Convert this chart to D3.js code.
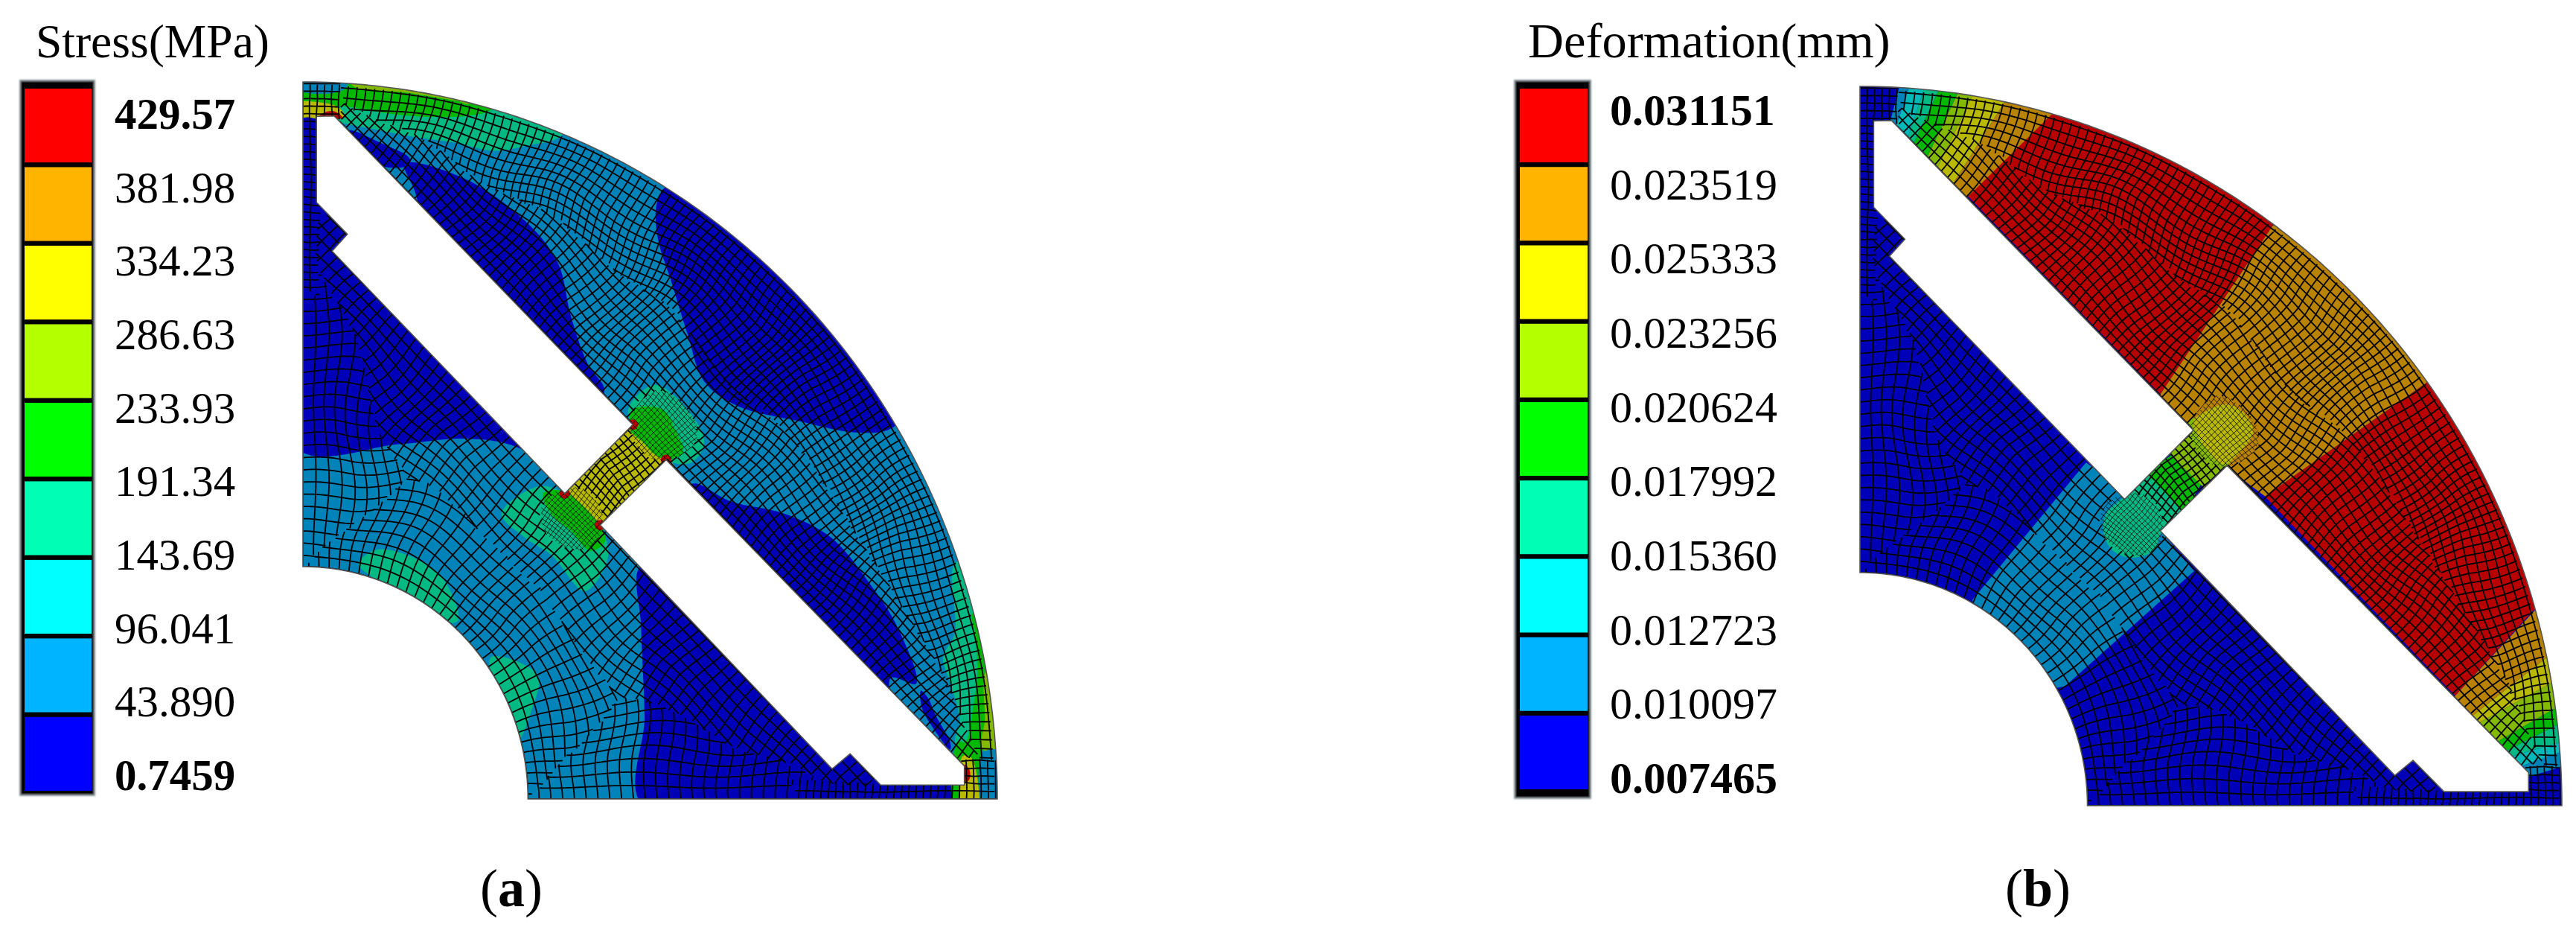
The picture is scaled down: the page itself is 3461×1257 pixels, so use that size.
<!DOCTYPE html>
<meta charset="utf-8">

<style>
body{
	background-color: #fff;
	margin: 0px;
}
text{
	font-family: "Liberation Serif", serif;
	fill: #000;
}
</style>

<body></body>

<script src="https://cdn.jsdelivr.net/npm/d3@7"></script>

<script>

// legend
var bandNames  = ['red', 'orange', 'yellow', 'lime', 'green', 'mint', 'cyan', 'sky', 'blue']
var bandColors = ['#ff0000', '#ffb400', '#ffff00', '#b4ff00', '#00ff00', '#00ffb4', '#00ffff', '#00b4ff', '#0000ff']
var stressLabels = ['429.57', '381.98', '334.23', '286.63', '233.93', '191.34', '143.69', '96.041', '43.890', '0.7459']
var deformLabels = ['0.031151', '0.023519', '0.025333', '0.023256', '0.020624', '0.017992', '0.015360', '0.012723', '0.010097', '0.007465']

// part outline, model units with outer radius 100
var outerRadius = 100
var innerRadius = 32.4
var slotUpper = [[1.95, 95.2], [4.5, 95.25], [47.5, 52.2], [37.7, 42.6], [4.2, 76.4], [6.4, 78.75], [1.95, 83.2]]
var slotLower = [[52.3, 47.3], [42.8, 38.2], [76.2, 4.2], [78.8, 6.3], [83.2, 1.95], [95.25, 1.95], [95.25, 4.6]]

// stress contours
var stressBase = 'sky'
var stressTopMint = [[-1, 96], [6.5, 94.1], [11.4, 93.2], [15.6, 92.4], [22, 91.5], [27.4, 90.4], [32.8, 91.2], [36.4, 92], [37.5, 93], [37, 101], [-1, 102]]
var stressTopGreen = [[-1, 97.9], [7.5, 96.4], [15, 95.3], [23.9, 95.3], [27.4, 96.4], [28, 102], [-1, 102]]
var stressTopLime = [[7, 99.6], [15, 98.5], [22, 97.4], [24, 97], [25, 102], [7, 102]]
var stressTopYellow = [[-1, 97], [3, 97.1], [5.2, 96.4], [6, 95.2], [4, 94.8], [-1, 95.4]]
var stressTopRed = [[2.2, 95], [3, 95.7], [4.5, 95.9], [5.7, 95]]
var stressTopCap = [[-1, 102], [6.5, 102], [6, 99], [-1, 99]]
var stressLeftBlue = [[-1, 94.5], [2.5, 94.5], [4, 90], [12, 75], [45, 40], [31, 49], [23.3, 50.25], [14, 49.5], [-1, 49]]
var stressSliver = [[6.75, 93.2], [11.4, 91.4], [15.3, 89.4], [15.3, 88.4], [11, 88.4]]
var stressUpperLens = [[14.7, 88.6], [23.3, 86.5], [31.9, 80.7], [36.7, 74.8], [38.6, 67.3], [41, 60.7], [43.4, 56.9], [40, 54], [18.5, 78], [16.1, 84.8]]
var stressOuterLobe = [[52.1, 85.25], [50.9, 82.75], [51.1, 78.2], [53, 72.3], [55.4, 64.8], [57.8, 58.2], [62.6, 54.8], [71.2, 52.75], [79.9, 51.1], [85.1, 51.9], [92, 62], [84, 82], [65, 92]]
var stressLowerLens = [[56.4, 44], [61.6, 41.5], [69.3, 39.8], [76, 36.5], [81.8, 29.8], [85.6, 24], [88.3, 16.1], [84.7, 16.9], [84, 14], [55, 43]]
var stressRightSliver = [[89, 15.1], [90, 14.1], [91.1, 11.7], [93.2, 7.9], [93.2, 6.9], [90.4, 10.4], [89.1, 12.8]]
var stressBottomBlue = [[49, -1], [49.2, 11.5], [48.7, 24], [48.7, 32.5], [60, 30], [95, 4], [94.6, -1]]
var stressRightMint = [[94, 33], [93.9, 23.2], [92.2, 19.7], [93.2, 16.2], [94.6, 11], [93.9, 8], [95, 6], [102, 10], [100, 33]]
var stressRightGreen = [[96.5, 26], [96.8, 23], [97.1, 19.7], [97.1, 16.9], [96.5, 12.8], [95.4, 7.9], [94.3, 8], [94, -1], [98, -1], [98, 7], [103, 12], [101, 26]]
var stressRightLime = [[98.5, 18], [98.2, 11], [97.8, 7], [102, 7], [102, 18]]
var stressRightEdge = [[98, 6.5], [101, 6.5], [101, -1], [98, -1]]
var stressCornerYellow = [[95, 6], [96.2, 5.8], [96.9, 4], [97.1, -1], [95, -1]]
var stressCornerRed = [[95.3, 4.8], [96, 4], [96, 2.8], [95.3, 2.2]]
var stressBridge = [[37, 44], [46.5, 53.2], [53.5, 46.5], [44, 37]]
var stressMintUpper = [[46.8, 54], [50.6, 57.75], [54.9, 54.8], [57.8, 49.8], [55.9, 46.9], [52.3, 47.3]]
var stressGreenUpper = [[47.5, 54.3], [51.8, 54.3], [53.6, 51.5], [54.7, 48.4], [52.8, 47.4], [51, 47.8], [48.9, 49.8], [47.1, 51.5]]
var stressMintLower = [[28.6, 39.8], [33.9, 43.6], [37.7, 42.6], [42.9, 37.75], [43.9, 33.6], [40.6, 29], [35.8, 34], [31.9, 36.5]]
var stressGreenLower = [[34.6, 42.6], [37.5, 42.9], [42.9, 38], [43.5, 35.9], [41.4, 34.6], [38.6, 37.4], [35.7, 39.8]]
var stressHubMintA = [[8, 32.75], [10.8, 34.8], [19.5, 31.5], [22.3, 24.8], [17.5, 25.7], [9.9, 31]]
var stressHubMintB = [[27.1, 19.8], [33.8, 17.3], [32.9, 12.3], [31, 8.2], [30, 11.5], [27.6, 15.7]]
var stressHotSpots = [[47.5, 52.2], [37.7, 42.6], [42.8, 38.2], [52.3, 47.3]]
var stressRegions = [
	['mint', stressTopMint], ['green', stressTopGreen], ['lime', stressTopLime],
	['yellow', stressTopYellow], ['red', stressTopRed], ['sky', stressTopCap],
	['blue', stressLeftBlue], ['blue', stressSliver], ['blue', stressUpperLens], ['blue', stressOuterLobe],
	['blue', stressLowerLens], ['blue', stressRightSliver], ['blue', stressBottomBlue],
	['mint', stressRightMint], ['green', stressRightGreen], ['lime', stressRightLime], ['sky', stressRightEdge],
	['yellow', stressCornerYellow], ['red', stressCornerRed],
	['mint', stressMintUpper], ['mint', stressMintLower], ['mint', stressHubMintA], ['mint', stressHubMintB],
	['yellow', stressBridge, 'hard'], ['green', stressGreenUpper], ['green', stressGreenLower]
]

// deformation contours
var deformBase = 'blue'
var deformRedUpper = [[26.9, 96], [15.2, 84.9], [42.8, 57.2], [58.7, 80.5], [62, 92], [30, 105]]
var deformRedLower = [[80.7, 58.8], [57.7, 43], [84.8, 15.3], [96.1, 27.3], [105, 35], [92, 70]]
var deformOrange = [[58.7, 80.5], [42.8, 57.2], [45, 53], [55, 45], [57.7, 43], [80.7, 58.8], [92, 66], [68, 90]]
var deformSky = [[16, 28.6], [32.2, 47.7], [37.7, 44], [43, 38], [47.6, 32.6], [29.2, 16.6], [20, 15]]
var deformMint = [[40.8, 46.2], [46.2, 40.7], [43, 38.1], [41.8, 35.4], [38.3, 34.5], [35.8, 35.7], [34.7, 38.1], [35.1, 40.6], [37.7, 43]]
var deformGreen = [[40.8, 46.2], [44.3, 48.7], [48.6, 44.7], [46.2, 40.7]]
var deformLime = [[43.5, 49.5], [47.5, 54], [53, 48], [49.2, 44]]
var deformBlob = [[47.5, 53.3], [49.6, 55], [52.4, 55.8], [54.9, 54.4], [56, 52], [54.5, 49.6], [51.7, 47.5]]
var deformRegions = [
	['red', deformRedUpper, 'hard'], ['red', deformRedLower, 'hard'], ['orange', deformOrange, 'hard'], ['sky', deformSky, 'hard'],
	['mint', deformMint], ['green', deformGreen, 'hard'], ['lime', deformLime, 'hard'], ['yellow', deformBlob]
]
var deformTopFronts = [
	[[4.35, 95.3], [5.6, 99.9]], [[5.2, 94.6], [7, 99.8]], [[7, 93.4], [9.1, 99.6]], [[7.9, 92.6], [11.2, 99.4]],
	[[10, 91], [13.9, 99]], [[11.2, 89], [16, 98.7]], [[13.6, 87], [20.6, 97.8]], [[15.5, 84.8], [27.4, 96.2]]
]
var deformEndFronts = [
	[[95.5, 4.1], [100, 5.4]], [[94.8, 5.7], [99.8, 7.45]], [[93.7, 7.1], [99.8, 8.8]], [[92.4, 7.8], [99.5, 11.3]],
	[[91.3, 9.2], [99.3, 13.7]], [[88.9, 11.9], [98.4, 17]], [[87.4, 12.6], [98.2, 20.9]], [[84.9, 15.4], [96.3, 27.3]]
]
var frontBands = ['sky', 'cyan', 'mint', 'green', 'lime', 'yellow', 'orange']

var W = 3461, H = 1257

var svg = d3.select('body').append('svg')
	.attr('width', W).attr('height', H)

var defs = svg.append('defs')
defs.append('filter').attr('id', 'soft').append('feGaussianBlur').attr('stdDeviation', 0.55)
defs.append('filter').attr('id', 'softBar').append('feGaussianBlur').attr('stdDeviation', 1.2)

var shade = {}
bandNames.forEach(function(d, i){ shade[d] = d3.rgb(bandColors[i]).darker(0.9).formatHex() })

// distance to the nearest free edge of the part
function depth(u, v){
	var s = u + v, r = Math.hypot(u, v)
	var slot = s > 90 ? Math.abs(s - 99.8) : Math.abs(80.5 - s)
	return Math.min(outerRadius - r, r - innerRadius, u, v, slot / Math.SQRT2)
}

// paved meshes are never straight away from the edges, bend the interior a bit
function bend(p){
	var k = Math.min(1, Math.max(0, depth(p[0], p[1])) / 7) * 0.75
	return [p[0] + k * Math.sin(p[1] * 0.31 + p[0] * 0.09), p[1] + k * Math.cos(p[0] * 0.27 - p[1] * 0.12)]
}

// which mesh family owns a point of the part
function zone(u, v){
	var s = u + v, e = Math.abs(u - v), r = Math.hypot(u, v)
	if (Math.hypot(u - 38.6, v - 38.8) < 4.6 || Math.hypot(u - 51.7, v - 51.9) < 4.6) return 'blob'
	if (s > 80.5 && s < 99.8 && e < 5.6) return 'bridge'
	if (s > 90){
		if (u < 2.1 || v < 2.1 || (v > 94.6 && u < 5.6) || (u > 94.6 && v < 5.6)) return 'strip'
		return (outerRadius - r) < (s - 99.8) / Math.SQRT2 ? 'rim' : 'outerSlot'
	}
	if (s > 72 && (u < 2.1 || v < 2.1)) return 'strip'
	var hub = r - innerRadius, slot = Math.abs(80.5 - s) / Math.SQRT2, side = Math.min(u, v)
	if (side < hub && side < slot) return 'grid'
	return hub < slot ? 'hub' : 'innerSlot'
}

function meshPaths(line){
	var runs = {fine: [], coarse: []}
	function trace(pts, fam){
		var run = null, out = fam == 'blob' ? runs.fine : runs.coarse
		for (var i = 1; i < pts.length; i++){
			if (zone((pts[i][0] + pts[i - 1][0]) / 2, (pts[i][1] + pts[i - 1][1]) / 2) == fam){
				if (!run){ run = [bend(pts[i - 1])]; out.push(run) }
				run.push(bend(pts[i]))
			} else run = null
		}
	}
	function polar(fam, r0, r1, dr, dth){
		d3.range(r0, r1, dr).forEach(function(r){
			trace(d3.range(0, Math.PI / 2 + 0.001, 0.6 / r).map(function(t){ return [r * Math.cos(t), r * Math.sin(t)] }), fam)
		})
		d3.range(dth / 2, Math.PI / 2, dth).forEach(function(t){
			trace(d3.range(r0, r1 + 0.1, 0.6).map(function(r){ return [r * Math.cos(t), r * Math.sin(t)] }), fam)
		})
	}
	function diag(fam, s0, s1, e0, e1, sp){
		var ds = sp * Math.SQRT2, st = 0.6
		d3.range(s0, s1, ds).forEach(function(s){
			trace(d3.range(e0, e1, st).map(function(e){ return [(s + e) / 2, (s - e) / 2] }), fam)
		})
		d3.range(e0, e1, ds).forEach(function(e){
			trace(d3.range(s0, s1, st).map(function(s){ return [(s + e) / 2, (s - e) / 2] }), fam)
		})
	}
	function cart(fam, sp){
		d3.range(0, 100, sp).forEach(function(k){
			var sweep = d3.range(0, 100.1, 0.6)
			trace(sweep.map(function(w){ return [k, w] }), fam)
			trace(sweep.map(function(w){ return [w, k] }), fam)
		})
	}
	polar('rim', 60, 100, 1.27, 1.27 / 100)
	diag('outerSlot', 99.8, 142, -100, 100, 1.27)
	polar('hub', innerRadius, 62, 1.6, 1.45 / innerRadius)
	// runs past the slot line so the two notches get cells too
	diag('innerSlot', 80.5 - 1.6 * Math.SQRT2 * 30, 90, -100, 100, 1.6)
	cart('grid', 1.7)
	cart('strip', 1.05)
	diag('bridge', 80.5, 99.8, -6, 6, 0.95)
	diag('blob', 70, 112, -10, 10, 0.6)
	return {fine: runs.fine.map(line).join(''), coarse: runs.coarse.map(line).join('')}
}

function drawPart(id, xRange, yRange, base, regions, fans, hotSpots){
	var x = d3.scaleLinear().domain([0, outerRadius]).range(xRange)
	var y = d3.scaleLinear().domain([0, outerRadius]).range(yRange)
	var line = d3.line().x(function(d){ return x(d[0]) }).y(function(d){ return y(d[1]) })
	var smooth = d3.line().x(function(d){ return x(d[0]) }).y(function(d){ return y(d[1]) }).curve(d3.curveCatmullRomClosed.alpha(0.5))

	var outer = d3.range(0, 90.2, 0.5).map(function(a){
		var t = a * Math.PI / 180
		return [outerRadius * Math.sin(t), outerRadius * Math.cos(t)]
	})
	var inner = d3.range(90, -0.2, -1).map(function(a){
		var t = a * Math.PI / 180
		return [innerRadius * Math.sin(t), innerRadius * Math.cos(t)]
	})
	var body = line(outer.concat(inner)) + 'Z'
	var holes = line(slotUpper) + 'Z' + line(slotLower) + 'Z'

	defs.append('clipPath').attr('id', id)
		.append('path').attr('d', body + holes).attr('clip-rule', 'evenodd')

	var g = svg.append('g').attr('filter', 'url(#soft)')
	var part = g.append('g').attr('clip-path', 'url(#' + id + ')')

	part.append('path').attr('d', body).attr('fill', shade[base])

	part.selectAll('.band').data(regions).enter().append('path')
		.attr('d', function(d){ return d[2] == 'hard' ? line(d[1]) + 'Z' : smooth(d[1]) })
		.attr('fill', function(d){ return shade[d[0]] })

	// contour fronts fanning across the rim
	fans.forEach(function(fan){
		d3.pairs(fan.fronts).forEach(function(p, i){
			var stretch = function(f, t){ return [f[0][0] + (f[1][0] - f[0][0]) * t, f[0][1] + (f[1][1] - f[0][1]) * t] }
			part.append('path')
				.attr('d', line([stretch(p[0], -0.3), stretch(p[0], 1.3), stretch(p[1], 1.3), stretch(p[1], -0.3)]) + 'Z')
				.attr('fill', shade[fan.bands[i]])
		})
	})

	part.selectAll('.hot').data(hotSpots).enter().append('circle')
		.attr('cx', function(d){ return x(d[0]) }).attr('cy', function(d){ return y(d[1]) })
		.attr('r', 7)
		.attr('fill', shade.red)

	var mesh = meshPaths(line)
	part.append('path').attr('d', mesh.coarse)
		.attr('fill', 'none').attr('stroke', '#000').attr('stroke-width', 1.8)
	part.append('path').attr('d', mesh.fine)
		.attr('fill', 'none').attr('stroke', '#000').attr('stroke-width', 0.8)

	g.append('path').attr('d', body + holes)
		.attr('fill', 'none').attr('stroke', '#555').attr('stroke-width', 1.6)
}

function drawLegend(title, titleX, titleSize, labels, labelX, labelRange, fontSize, barOuter, barInner, barY){
	var band = d3.scaleBand().domain(bandNames).range([barY[1], barY[2]]).paddingInner(0.06)
	var tick = d3.scalePoint().domain(labels).range(labelRange)

	svg.append('text').attr('x', titleX).attr('y', 77)
		.attr('font-size', titleSize).text(title)

	svg.append('rect')
		.attr('x', barOuter[0]).attr('y', barY[0])
		.attr('width', barOuter[1] - barOuter[0]).attr('height', barY[3] - barY[0])
		.attr('fill', '#060606').attr('stroke', '#8a9599').attr('stroke-width', 2)
		.attr('filter', 'url(#softBar)')

	svg.selectAll('.swatch-' + titleX).data(bandNames).enter().append('rect')
		.attr('x', barInner[0]).attr('width', barInner[1] - barInner[0])
		.attr('y', function(d){ return band(d) }).attr('height', band.bandwidth())
		.attr('fill', function(d, i){ return bandColors[i] })

	svg.selectAll('.tick-' + titleX).data(labels).enter().append('text')
		.attr('x', labelX).attr('y', function(d){ return tick(d) })
		.attr('font-size', fontSize)
		.attr('font-weight', function(d, i){ return i == 0 || i == labels.length - 1 ? 'bold' : 'normal' })
		.text(function(d){ return d })
}

function drawCaption(letter, cx){
	var t = svg.append('text').attr('x', cx).attr('y', 1217)
		.attr('text-anchor', 'middle').attr('font-size', 72)
	t.append('tspan').text('(')
	t.append('tspan').attr('font-weight', 'bold').text(letter)
	t.append('tspan').text(')')
}

drawLegend('Stress(MPa)', 48, 63.5, stressLabels, 154, [173, 1061], 59, [27, 127], [33, 123], [108, 119, 1062, 1068])
drawLegend('Deformation(mm)', 2053, 66.4, deformLabels, 2163, [168, 1065], 60, [2035, 2137], [2042, 2133], [108, 119, 1060, 1072])

drawPart('partA', [407, 1340], [1073, 110], stressBase, stressRegions, [], stressHotSpots)
drawPart('partB', [2499, 3442], [1082, 116], deformBase, deformRegions, [
	{fronts: deformTopFronts, bands: frontBands},
	{fronts: deformEndFronts, bands: frontBands}
], [])

drawCaption('a', 687)
drawCaption('b', 2738)

</script>
